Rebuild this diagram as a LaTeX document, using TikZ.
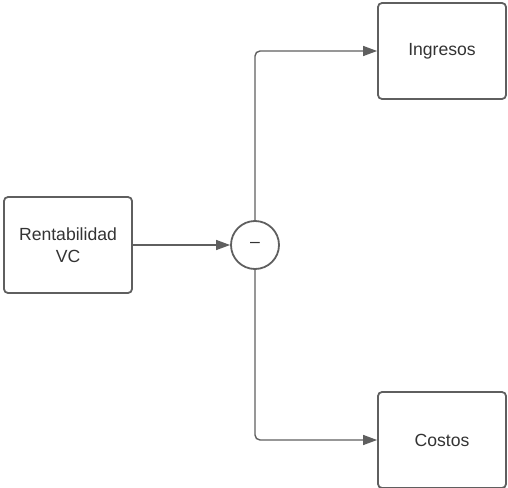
\documentclass[tikz,border=0pt]{standalone}
\usepackage{fontspec}
\setmainfont{Liberation Sans}
\usetikzlibrary{arrows.meta}
\definecolor{linegray}{HTML}{5F5F5F}
\definecolor{txtgray}{HTML}{333333}
\begin{document}
\begin{tikzpicture}[x=1pt,y=-1pt,
  box/.style={draw=linegray,line width=1.8pt,rounded corners=4pt,minimum width=128pt,minimum height=96pt,
    inner sep=0pt,align=center,text=txtgray,font=\fontsize{17.6}{22}\selectfont},
  opcircle/.style={draw=linegray,line width=1.8pt,circle,minimum size=48pt,inner sep=0pt,text=txtgray,font=\fontsize{17.6}{22}\selectfont},
  conn/.style={draw=linegray,line width=1.4pt,rounded corners=5pt,-{Triangle[length=14pt,width=10pt]}}]
\useasboundingbox (0,0) rectangle (508,487);
\node[box] (rent) at (68,245) {Rentabilidad\\VC};
\node[opcircle] (op) at (255,245) {–};
\node[box] (ing) at (442,51) {Ingresos};
\node[box] (cos) at (442,440) {Costos};
\draw[conn] (rent.east) -- (op.west);
\draw[conn] (op.north) |- (ing.west);
\draw[conn] (op.south) |- (cos.west);
\end{tikzpicture}
\end{document}
